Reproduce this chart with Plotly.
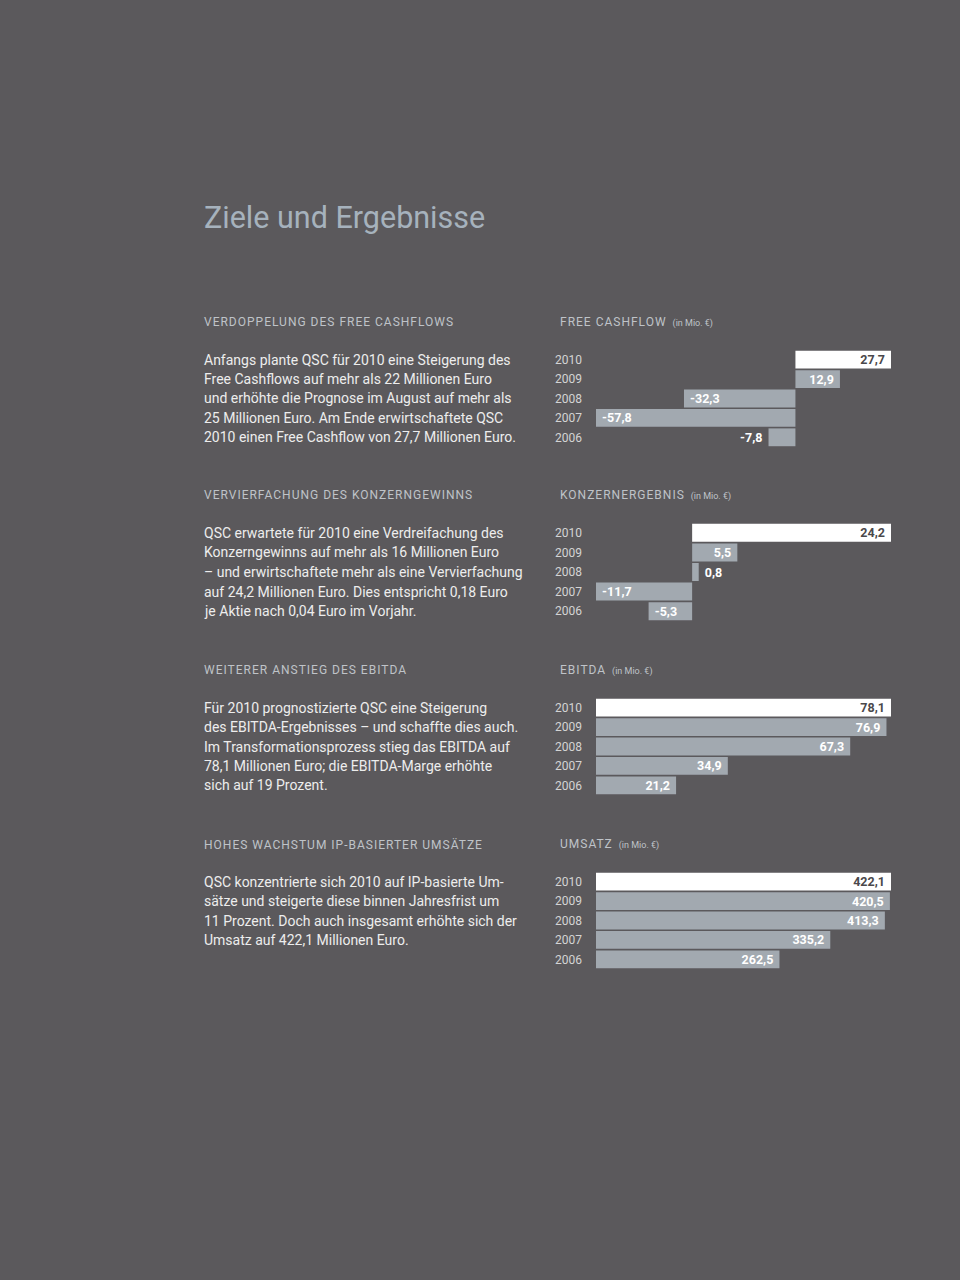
import plotly.graph_objects as go

# ---------------- data ----------------
years = ["2010", "2009", "2008", "2007", "2006"]
free_cashflow = [27.7, 12.9, -32.3, -57.8, -7.8]
konzernergebnis = [24.2, 5.5, 0.8, -11.7, -5.3]
ebitda = [78.1, 76.9, 67.3, 34.9, 21.2]
umsatz = [422.1, 420.5, 413.3, 335.2, 262.5]

page_title = "Ziele und Ergebnisse"
left_headers = [
    "VERDOPPELUNG DES FREE CASHFLOWS",
    "VERVIERFACHUNG DES KONZERNGEWINNS",
    "WEITERER ANSTIEG DES EBITDA",
    "HOHES WACHSTUM IP-BASIERTER UMSÄTZE",
]
chart_titles = ["FREE CASHFLOW", "KONZERNERGEBNIS", "EBITDA", "UMSATZ"]
unit_label = "(in Mio. €)"
body_texts = [
    ["Anfangs plante QSC für 2010 eine Steigerung des",
     "Free Cashflows auf mehr als 22 Millionen Euro",
     "und erhöhte die Prognose im August auf mehr als",
     "25 Millionen Euro. Am Ende erwirtschaftete QSC",
     "2010 einen Free Cashflow von 27,7 Millionen Euro."],
    ["QSC erwartete für 2010 eine Verdreifachung des",
     "Konzerngewinns auf mehr als 16 Millionen Euro",
     "– und erwirtschaftete mehr als eine Vervierfachung",
     "auf 24,2 Millionen Euro. Dies entspricht 0,18 Euro",
     "je Aktie nach 0,04 Euro im Vorjahr."],
    ["Für 2010 prognostizierte QSC eine Steigerung",
     "des EBITDA-Ergebnisses – und schaffte dies auch.",
     "Im Transformationsprozess stieg das EBITDA auf",
     "78,1 Millionen Euro; die EBITDA-Marge erhöhte",
     "sich auf 19 Prozent."],
    ["QSC konzentrierte sich 2010 auf IP-basierte Um-",
     "sätze und steigerte diese binnen Jahresfrist um",
     "11 Prozent. Doch auch insgesamt erhöhte sich der",
     "Umsatz auf 422,1 Millionen Euro."],
]
series = [free_cashflow, konzernergebnis, ebitda, umsatz]

# ---------------- style ----------------
W, H = 960, 1280
BG = "#5b595c"
BAR = "#a2a9b0"
TOP_BAR = "#ffffff"
TITLE_C = "#a6b2bd"
HEAD_C = "#bfc3c8"
BODY_C = "#ededed"
YEAR_C = "#d4d4d4"
FONT = "Roboto, 'DejaVu Sans', sans-serif"
NB = "\u00a0"

def px(x):
    return x / W

def py(y):
    return 1 - y / H

# vertical blocks (pixel positions): header y, bar-area top, bar-area bottom
blocks = [
    (322, 350, 447),
    (495, 523, 621),
    (670, 698, 795),
    (844, 872, 969),
]
X0, X1 = 596, 891

fig = go.Figure()
annotations = []

annotations.append(dict(
    text=page_title, x=px(202), y=py(218), xref="paper", yref="paper",
    xanchor="left", yanchor="middle", showarrow=False,
    font=dict(family=FONT, size=30.5, color=TITLE_C)))

for i, (vals, (hy, top, bot)) in enumerate(zip(series, blocks)):
    n = i + 1
    xa = "x" if n == 1 else f"x{n}"
    ya = "y" if n == 1 else f"y{n}"
    lo = min(0, min(vals))
    hi = max(vals)
    span = hi - lo
    positions, colors, tcolors, labels = [], [], [], []
    for j, v in enumerate(vals):
        s = f"{v:.1f}".replace(".", ",")
        width_px = abs(v) / span * (X1 - X0)
        inside = width_px > 34
        positions.append("inside" if inside else "outside")
        # small padding on the side facing the bar end
        if (v > 0) == inside:
            labels.append(s + NB)
        else:
            labels.append(NB + s)
        colors.append(TOP_BAR if j == 0 else BAR)
        tcolors.append("#4a484b" if j == 0 else "#ffffff")
    fig.add_trace(go.Bar(
        x=vals, y=years, orientation="h", xaxis=xa, yaxis=ya,
        marker=dict(color=colors, line=dict(width=0)),
        text=labels, textposition=positions, insidetextanchor="end",
        textfont=dict(family=FONT, size=12.5, color=tcolors, weight="bold"),
        constraintext="none", cliponaxis=False, hoverinfo="skip",
        showlegend=False))
    fig.layout[("xaxis" if n == 1 else f"xaxis{n}")] = dict(
        domain=[px(X0), px(X1)], range=[lo, hi], anchor=ya,
        visible=False, fixedrange=True)
    fig.layout[("yaxis" if n == 1 else f"yaxis{n}")] = dict(
        domain=[py(bot), py(top)], anchor=xa, autorange="reversed",
        type="category", showgrid=False, zeroline=False, showline=False,
        ticks="", ticklabelstandoff=13,
        tickfont=dict(family=FONT, size=12, color=YEAR_C), fixedrange=True)

    # headers (tracked capitals)
    annotations.append(dict(
        text=f"<span style='letter-spacing:1px'>{left_headers[i]}</span>",
        x=px(202), y=py(hy), xref="paper", yref="paper",
        xanchor="left", yanchor="middle", showarrow=False,
        font=dict(family=FONT, size=12, color=HEAD_C)))
    annotations.append(dict(
        text=(f"<span style='letter-spacing:1px'>{chart_titles[i]}</span>  "
              f"<span style='font-size:9px'>{unit_label}</span>"),
        x=px(558), y=py(hy), xref="paper", yref="paper",
        xanchor="left", yanchor="middle", showarrow=False,
        font=dict(family=FONT, size=12, color=HEAD_C)))

    # body text lines aligned with bar rows
    pitch = (bot - top) / 5
    for k, line in enumerate(body_texts[i]):
        yc = top + pitch * (k + 0.5)
        annotations.append(dict(
            text=line, x=px(202), y=py(yc), xref="paper", yref="paper",
            xanchor="left", yanchor="middle", showarrow=False,
            font=dict(family=FONT, size=14, color=BODY_C)))

fig.update_layout(
    width=W, height=H, margin=dict(l=0, r=0, t=0, b=0),
    paper_bgcolor=BG, plot_bgcolor=BG, bargap=0.08,
    annotations=annotations, showlegend=False)

fig.write_html(
    "out.html", config={"displayModeBar": False},
    post_script=("document.body.style.margin='0';"
                 "document.body.style.background='" + BG + "';"))
